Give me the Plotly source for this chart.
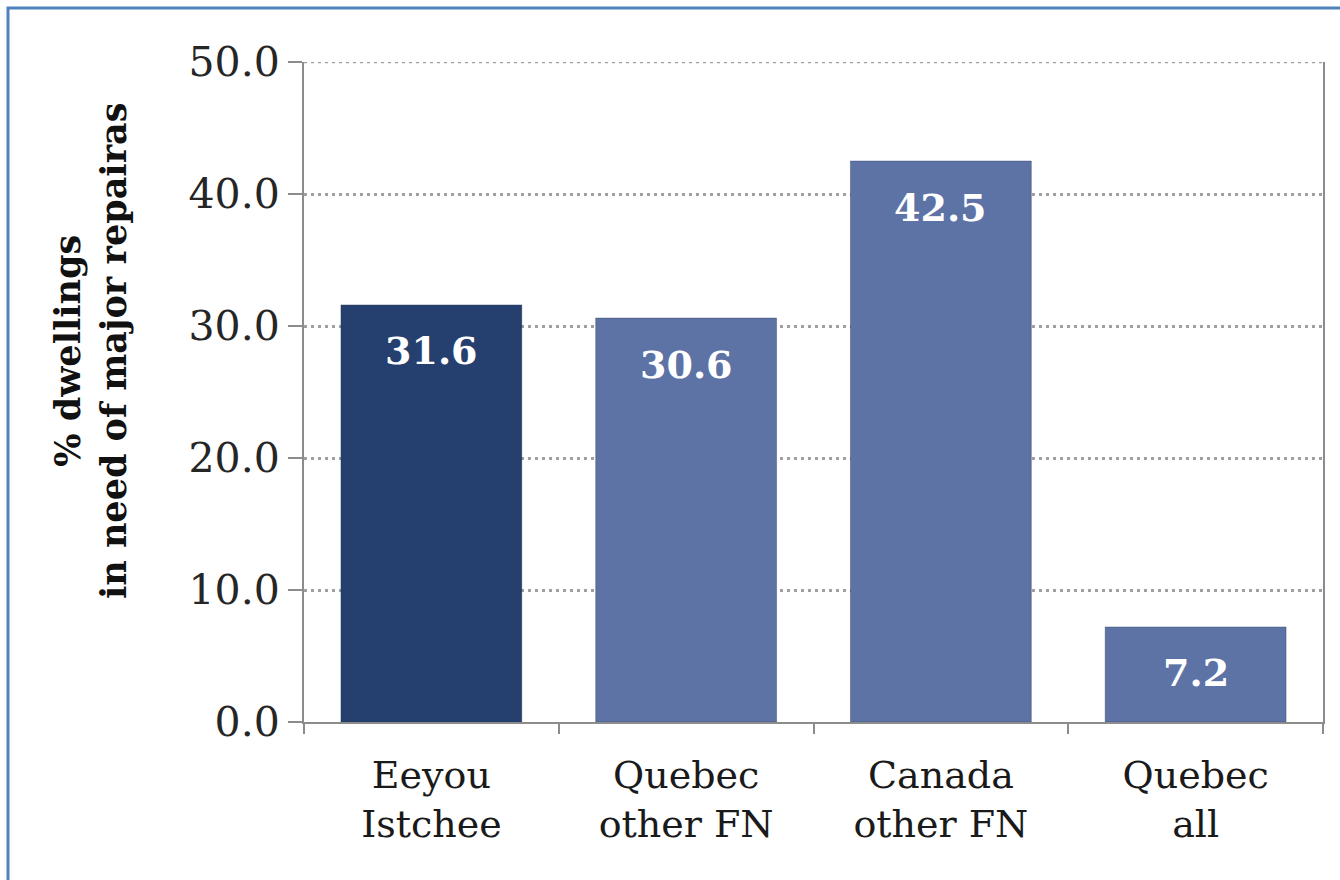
import plotly.graph_objects as go

categories = ["Eeyou<br>Istchee", "Quebec<br>other FN", "Canada<br>other FN", "Quebec<br>all"]
values = [31.6, 30.6, 42.5, 7.2]
bar_colors = ["#253f6f", "#5d73a6", "#5d73a6", "#5d73a6"]
y_title = "% dwellings<br>in need of major repairas"
y_ticks = [0, 10, 20, 30, 40, 50]

W, H = 1340, 880
ML, MR, MT, MB = 304, 17, 62, 158
PW, PH = W - ML - MR, H - MT - MB


def px_x(p):
    return (p - ML) / PW


def px_y(p):
    return (H - MB - p) / PH


fig = go.Figure()
fig.add_trace(go.Bar(
    x=categories, y=values,
    marker=dict(color=bar_colors, line=dict(color="rgba(30,45,80,0.35)", width=1)),
    hoverinfo="skip",
))

for c, v in zip(categories, values):
    fig.add_annotation(
        x=c, y=v, xref="x", yref="y", text="<b>%.1f</b>" % v,
        showarrow=False, yanchor="middle", yshift=-46,
        font=dict(family="DejaVu Serif", size=38, color="white"),
    )

fig.add_annotation(
    x=px_x(90), y=px_y(351), xref="paper", yref="paper",
    text="<b>" + y_title + "</b>", textangle=-90, showarrow=False,
    font=dict(family="DejaVu Serif", size=35, color="#111111"),
    xanchor="center", yanchor="middle",
)

# top dotted gridline at the maximum tick (plotly hides the edge gridline)
fig.add_shape(
    type="line", xref="paper", yref="y", x0=0, x1=1, y0=y_ticks[-1], y1=y_ticks[-1],
    line=dict(color="#a0a0a0", width=2.5, dash="3px,4px"), layer="below",
)

fig.add_shape(
    type="rect", xref="paper", yref="paper",
    x0=px_x(8), x1=px_x(1360), y0=px_y(8), y1=px_y(900),
    line=dict(color="#4f81bd", width=3), fillcolor="rgba(0,0,0,0)", layer="below",
)

fig.update_layout(
    width=W, height=H,
    margin=dict(l=ML, r=MR, t=MT, b=MB),
    paper_bgcolor="white", plot_bgcolor="white",
    bargap=0.29, showlegend=False,
)
fig.update_xaxes(
    showline=True, linecolor="#8c8c8c", linewidth=2,
    ticks="outside", tickson="boundaries", ticklen=10, tickcolor="#8c8c8c", tickwidth=2,
    tickfont=dict(family="DejaVu Serif", size=38, color="#1a1a1a"),
    ticklabelstandoff=18,
    showgrid=False,
)
fig.update_yaxes(
    range=[0, 50], tickvals=y_ticks, tickformat=".1f",
    showline=True, linecolor="#8c8c8c", linewidth=2, mirror=True,
    ticks="outside", ticklen=14, tickcolor="#8c8c8c", tickwidth=2,
    tickfont=dict(family="DejaVu Serif", size=41, color="#262626"),
    showgrid=True, gridcolor="#a0a0a0", gridwidth=2.5, griddash="3px,4px",
    zeroline=False,
)

fig.write_html("out.html")
